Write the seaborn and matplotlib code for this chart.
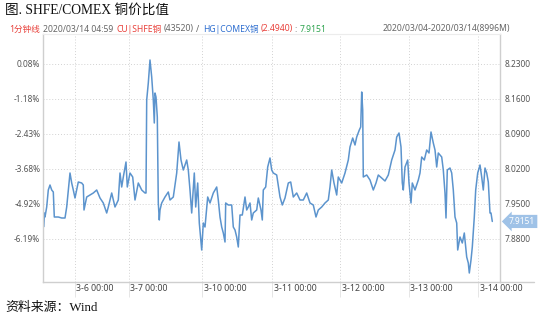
import numpy as np
import pandas as pd
import matplotlib
matplotlib.use("Agg")
import matplotlib.pyplot as plt
import matplotlib.transforms as mtransforms
from matplotlib.lines import Line2D
import seaborn as sns

# ---- data ----
minute_index = [0, 10, 30, 40, 74, 106, 140, 174, 206, 226, 306, 374, 440, 474, 506, 540, 574, 606, 640, 674,
                706, 774, 806, 820, 874, 940, 1006, 1074, 1140, 1206, 1274, 1306, 1374, 1440, 1506, 1540, 1574,
                1606, 1660, 1686, 1740, 1794, 1840, 1906, 1974, 2040, 2060, 2074, 2106, 2140, 2174, 2206, 2226,
                2240, 2260, 2286, 2306, 2326, 2340, 2374, 2440, 2506, 2540, 2606, 2674, 2720, 2760, 2806, 2874,
                2906, 2940, 2974, 3026, 3054, 3094, 3126, 3174, 3206, 3240, 3294, 3340, 3406, 3474, 3506, 3540,
                3574, 3606, 3640, 3654, 3706, 3774, 3806, 3840, 3874, 3906, 3940, 3986, 4040, 4074, 4106, 4140,
                4174, 4206, 4274, 4306, 4360, 4386, 4406, 4454, 4494, 4540, 4574, 4606, 4674, 4740, 4786, 4840,
                4906, 4954, 5006, 5074, 5140, 5206, 5274, 5340, 5406, 5460, 5506, 5574, 5640, 5706, 5740, 5774,
                5820, 5874, 5906, 5974, 6040, 6106, 6140, 6194, 6240, 6274, 6326, 6354, 6374, 6394, 6406, 6474,
                6540, 6606, 6660, 6706, 6774, 6840, 6906, 6974, 7040, 7074, 7120, 7160, 7186, 7206, 7240, 7294,
                7320, 7360, 7386, 7440, 7506, 7540, 7574, 7626, 7674, 7720, 7760, 7806, 7840, 7874, 7906, 7974,
                8006, 8040, 8060, 8086, 8140, 8174, 8206, 8240, 8274, 8294, 8340, 8386, 8426, 8474, 8506, 8526,
                8560, 8586, 8626, 8654, 8694, 8740, 8774, 8806, 8840, 8874, 8906, 8940, 8960, 8986]
ratio_values = [7.952, 7.904, 7.932, 7.924, 7.944, 7.978, 7.988, 7.978, 7.974, 7.924, 7.924, 7.922, 7.922, 7.944,
                7.978, 8.012, 7.992, 7.978, 7.962, 7.978, 7.994, 7.992, 7.988, 7.938, 7.964, 7.968, 7.972, 7.978,
                7.962, 7.952, 7.932, 7.944, 7.972, 7.944, 7.958, 8.012, 7.984, 8.004, 8.034, 7.984, 8.012, 8.004,
                7.958, 7.992, 7.978, 7.972, 7.972, 8.158, 8.192, 8.238, 8.204, 8.158, 8.112, 8.172, 8.164, 8.124,
                7.952, 7.918, 7.938, 7.952, 7.964, 7.974, 7.958, 7.964, 8.012, 8.074, 8.038, 8.018, 8.038, 8.018,
                7.978, 7.932, 8.012, 7.944, 7.992, 7.912, 7.858, 7.912, 7.904, 7.964, 7.952, 7.972, 7.984, 7.958,
                7.924, 7.904, 7.892, 7.874, 7.952, 7.948, 7.948, 7.904, 7.898, 7.884, 7.864, 7.928, 7.928, 7.964,
                7.938, 7.944, 7.952, 7.918, 7.932, 7.938, 7.962, 7.938, 7.918, 7.978, 7.984, 8.024, 8.042, 8.018,
                8.012, 8.008, 7.964, 7.948, 7.962, 7.992, 7.994, 7.964, 7.972, 7.958, 7.958, 7.972, 7.952, 7.948,
                7.924, 7.938, 7.944, 7.952, 7.958, 7.984, 8.018, 7.992, 7.968, 8.004, 7.992, 8.012, 8.038, 8.064,
                8.082, 8.068, 8.084, 8.098, 8.104, 8.174, 8.138, 8.004, 8.008, 7.998, 7.978, 7.992, 8.008, 8.002,
                7.996, 8.008, 8.038, 8.058, 8.084, 8.092, 8.064, 7.992, 7.978, 8.024, 8.038, 7.992, 7.952, 7.992,
                7.978, 7.998, 8.012, 8.044, 8.038, 8.058, 8.052, 8.094, 8.072, 8.058, 8.024, 8.052, 8.044, 8.018,
                7.972, 7.922, 8.018, 8.022, 8.012, 7.978, 7.924, 7.912, 7.858, 7.884, 7.872, 7.892, 7.844, 7.832,
                7.812, 7.838, 7.864, 7.924, 7.978, 8.012, 8.028, 8.004, 7.978, 8.022, 8.012, 7.994, 7.932, 7.932,
                7.9151]
x_tick_pos = [640, 1720, 3180, 4580, 5940, 7320, 8700]
x_tick_labels = ["3-6 00:00", "3-7 00:00", "3-10 00:00", "3-11 00:00", "3-12 00:00", "3-13 00:00", "3-14 00:00"]
ratio_ticks = [8.23, 8.16, 8.09, 8.02, 7.95, 7.88]
ratio_tick_labels = ["8.2300", "8.1600", "8.0900", "8.0200", "7.9500", "7.8800"]
pct_tick_labels = ["0.08%", "-1.18%", "-2.43%", "-3.68%", "-4.92%", "-6.19%"]
last_value = 7.9151
last_label = "7.9151"

# ---- styling ----
sns.set_theme(style="white")
plt.rcParams["font.family"] = ["Noto Sans", "Noto Sans CJK SC", "DejaVu Sans"]

W, H = 539, 317
fig = plt.figure(figsize=(W / 100, H / 100), dpi=100)
fig.patch.set_facecolor("white")
L, R, T, B = 43, 500, 34, 282
ax = fig.add_axes([L / W, 1 - B / H, (R - L) / W, (B - T) / H])

df = pd.DataFrame({"t": minute_index, "ratio": ratio_values})
sns.lineplot(data=df, x="t", y="ratio", ax=ax, color="#4a88c8", linewidth=1.1,
             estimator=None, sort=False, alpha=0.9)

ax.set_xlim(0, 9140)
ax.set_ylim(7.794, 8.29)
ax.set_xlabel("")
ax.set_ylabel("")

ax.set_yticks(ratio_ticks)
ax.set_yticklabels(pct_tick_labels)
ax.set_xticks(x_tick_pos)
ax.set_xticklabels(x_tick_labels)
ax.grid(True, linestyle=(0, (1, 2)), color="#d2d2d2", linewidth=0.7)

ax.tick_params(axis="y", length=0, pad=2, labelsize=6, labelcolor="#555555")
ax.tick_params(axis="x", bottom=True, length=11, width=0.6, color="#e2e2e2",
               pad=-9.5, labelsize=6.3, labelcolor="#444444")
offset = mtransforms.ScaledTranslation(1.5 / 100, 0, fig.dpi_scale_trans)
for lbl in ax.get_xticklabels():
    lbl.set_ha("left")
    lbl.set_transform(lbl.get_transform() + offset)

for side in ["left", "bottom", "right"]:
    ax.spines[side].set_visible(True)
    ax.spines[side].set_color("#cfcfcf")
    ax.spines[side].set_linewidth(1.0)
ax.spines["top"].set_visible(True)
ax.spines["top"].set_color("#ececec")
ax.spines["top"].set_linewidth(0.8)

ax2 = ax.twinx()
ax2.set_ylim(ax.get_ylim())
ax2.set_yticks(ratio_ticks)
ax2.set_yticklabels(ratio_tick_labels)
ax2.tick_params(axis="y", length=0, pad=3, labelsize=6, labelcolor="#555555")
ax2.grid(False)
for s in ax2.spines.values():
    s.set_visible(False)

# extension of the bottom axis line under the right scale
fig.add_artist(Line2D([R / W, 534 / W], [1 - B / H, 1 - B / H], color="#cfcfcf", lw=1.0))

# last-value tag
trans = mtransforms.blended_transform_factory(ax2.transAxes, ax2.transData)
ax2.text(1.0, last_value, last_label,
         transform=trans + mtransforms.ScaledTranslation(9 / 100, 0, fig.dpi_scale_trans),
         ha="left", va="center", color="white", fontsize=6,
         bbox=dict(boxstyle="larrow,pad=0.25", fc="#9fc2e7", ec="none"))

# title
serif_cjk = ["Liberation Serif", "Noto Sans CJK SC"]
fig.text(5 / W, 1 - 10 / H, "图. SHFE/COMEX 铜价比值", family=serif_cjk, fontsize=9.8,
         ha="left", va="center", color="#111111")

# header line, laid out piece by piece
hy = 1 - 29 / H
red, gray, blue, green = "#e8403a", "#666666", "#2f6fd0", "#2ea44f"
parts = [("1分钟线", red, 3), ("2020/03/14 04:59", gray, 3), ("CU|SHFE铜", red, 2),
         ("(43520)", gray, 3), ("/", gray, 3), ("HG|COMEX铜", blue, 2),
         ("(2.4940)", red, 2), (":", gray, 3), ("7.9151", green, 0)]
renderer = fig.canvas.get_renderer()
xpos = 9
for s, c, gap in parts:
    t = fig.text(xpos / W, hy, s, fontsize=6.2, color=c, ha="left", va="center",
                 family=["Noto Sans", "Noto Sans CJK SC"])
    xpos += t.get_window_extent(renderer).width + gap
fig.text(383 / W, hy, "2020/03/04-2020/03/14(8996M)", fontsize=6.2, color=gray,
         ha="left", va="center", family=["Noto Sans", "Noto Sans CJK SC"])

# footer
fig.text(5 / W, 1 - 308 / H, "资料来源：Wind", family=serif_cjk, fontsize=9.3,
         ha="left", va="center", color="#111111")

fig.savefig("out.png", dpi=100, facecolor="white")
